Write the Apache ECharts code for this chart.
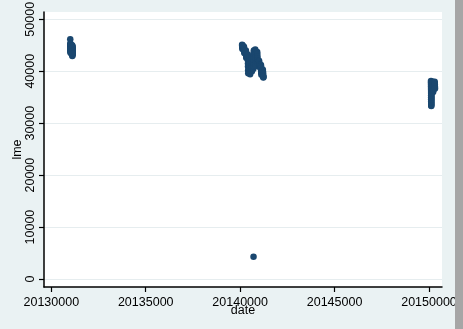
<!DOCTYPE html>
<html>
<head>
<meta charset="utf-8">
<script src="https://cdn.jsdelivr.net/npm/echarts@6/dist/echarts.min.js"></script>
<style>html,body{margin:0;padding:0;background:#eaf2f3;}#c{width:463px;height:329px;}</style>
</head>
<body>
<div id="c"></div>
<script>
// x-axis ticks and y-axis ticks
const xTicks = [20130000, 20135000, 20140000, 20145000, 20150000];
const yTicks = [0, 10000, 20000, 30000, 40000, 50000];

// cluster: Oct-Nov 2013
const date2013 = [20131003,20131007,20131008,20131009,20131010,20131014,20131015,20131016,20131017,20131021,20131022,20131023,20131024,20131028,20131029,20131030,20131031,
  20131101,20131104,20131105,20131106,20131107,20131108,20131111,20131112,20131113,20131114,20131115,20131118,20131119,20131120,20131121,20131122,20131125,20131126,20131127,20131129];
const lme2013 = [46150,45350,45100,44900,44700,44500,44300,44050,43800,43600,44200,44600,45000,43500,43900,44400,45200,
  45000,44700,44400,44100,43800,43500,43200,42950,43300,43700,44000,44300,44600,44850,43100,43600,44200,44500,43900,43400];

// cluster: 2014
const date2014 = [20140102,20140106,20140110,20140115,20140120,20140124,20140129,
  20140203,20140207,20140212,20140217,20140221,20140226,
  20140303,20140307,20140312,20140317,20140321,20140326,20140331,
  20140402,20140404,20140409,20140414,20140417,20140423,20140428,
  20140502,20140507,20140512,20140515,20140520,20140523,20140528,
  20140602,20140605,20140610,20140613,20140618,20140623,20140627,
  20140701,20140704,20140709,20140714,20140717,20140722,20140725,20140730,20140708,
  20140801,20140806,20140811,20140814,20140819,20140822,20140827,
  20140902,20140905,20140910,20140915,20140918,20140923,20140926,
  20141001,20141006,20141009,20141014,20141017,20141022,20141027,20141030,
  20141103,20141106,20141111,20141114,20141119,20141124,20141127,
  20141202,20141205,20141210,20141215,20141218,20141223,20141229,20141231];
const lme2014 = [45100,44900,44700,44500,44300,44800,45000,
  44700,44400,44100,43800,43500,44000,
  44000,43700,43400,43100,42800,42600,43200,
  43200,42700,42100,41500,40900,40200,39600,
  42700,42100,41500,40900,40300,39700,39400,
  42800,42200,41600,41000,40500,40000,40800,
  40500,41000,41600,42200,42800,43400,44000,43700,4300,
  44200,43800,43300,42700,42100,41500,41000,
  43700,43300,42900,42500,42100,41800,41500,
  42000,41800,41500,41300,41100,40900,40800,41200,
  41200,40900,40600,40200,39900,39600,39300,
  40300,40000,39700,39500,39200,39000,38800,38900];

// cluster: Jan-Mar 2015
const date2015 = [20150105,20150106,20150107,20150108,20150109,20150112,20150113,20150114,20150115,20150116,20150119,20150120,20150121,20150122,20150123,20150126,20150127,20150128,20150129,20150130,
  20150202,20150204,20150206,20150210,20150213,20150217,20150220,20150225,
  20150302,20150305,20150310,20150313,20150318];
const lme2015 = [38100,37800,37400,37000,36600,36200,35800,35400,35000,34600,34200,33800,33400,33300,33700,34100,34500,34900,35300,35700,
  38000,37700,37300,36900,36500,36200,36000,36400,
  38000,37700,37400,37000,36700];

const pts = [];
[[date2013,lme2013],[date2014,lme2014],[date2015,lme2015]].forEach(([d,v]) => {
  for (let i = 0; i < d.length; i++) pts.push([d[i], v[i]]);
});

const font = 'Arial, "Liberation Sans", sans-serif';
const chart = echarts.init(document.getElementById('c'));
chart.setOption({
  backgroundColor: '#eaf2f3',
  animation: false,
  grid: {left: 44, top: 12, right: 21, bottom: 42, show: true, backgroundColor: '#ffffff', borderWidth: 0, containLabel: false, outerBoundsMode: 'none'},
  graphic: [{type: 'rect', right: 0, top: 0, shape: {width: 8, height: 329}, style: {fill: '#a6a6a6'}, z: 100}],
  xAxis: {
    type: 'value', min: 20129613, max: 20150689,
    name: 'date', nameLocation: 'middle', nameGap: 17, nameMoveOverlap: false,
    nameTextStyle: {fontFamily: font, fontSize: 12.5, color: '#000'},
    axisLine: {show: true, onZero: false, lineStyle: {color: '#000', width: 1.5}},
    axisTick: {show: true, length: 5, customValues: xTicks, lineStyle: {color: '#000', width: 1.2}},
    axisLabel: {customValues: xTicks, margin: 9, fontFamily: font, fontSize: 12.5, color: '#000', formatter: v => String(v)},
    splitLine: {show: false}
  },
  yAxis: {
    type: 'value', min: -1540, max: 51405,
    name: 'lme', nameLocation: 'middle', nameGap: 20, nameRotate: 90, nameMoveOverlap: false,
    nameTextStyle: {fontFamily: font, fontSize: 12.5, color: '#000'},
    axisLine: {show: true, onZero: false, lineStyle: {color: '#000', width: 1.5}},
    axisTick: {show: true, length: 5, customValues: yTicks, lineStyle: {color: '#000', width: 1.2}},
    axisLabel: {customValues: yTicks, rotate: 90, margin: 7, fontFamily: font, fontSize: 12.5, color: '#000', formatter: v => String(v)},
    splitLine: {show: true, lineStyle: {color: '#e6edef', width: 1}}
  },
  series: [{
    type: 'scatter', data: pts, symbol: 'circle', symbolSize: 6.5,
    itemStyle: {color: '#1a476f', opacity: 1}
  }]
});
</script>
</body>
</html>
